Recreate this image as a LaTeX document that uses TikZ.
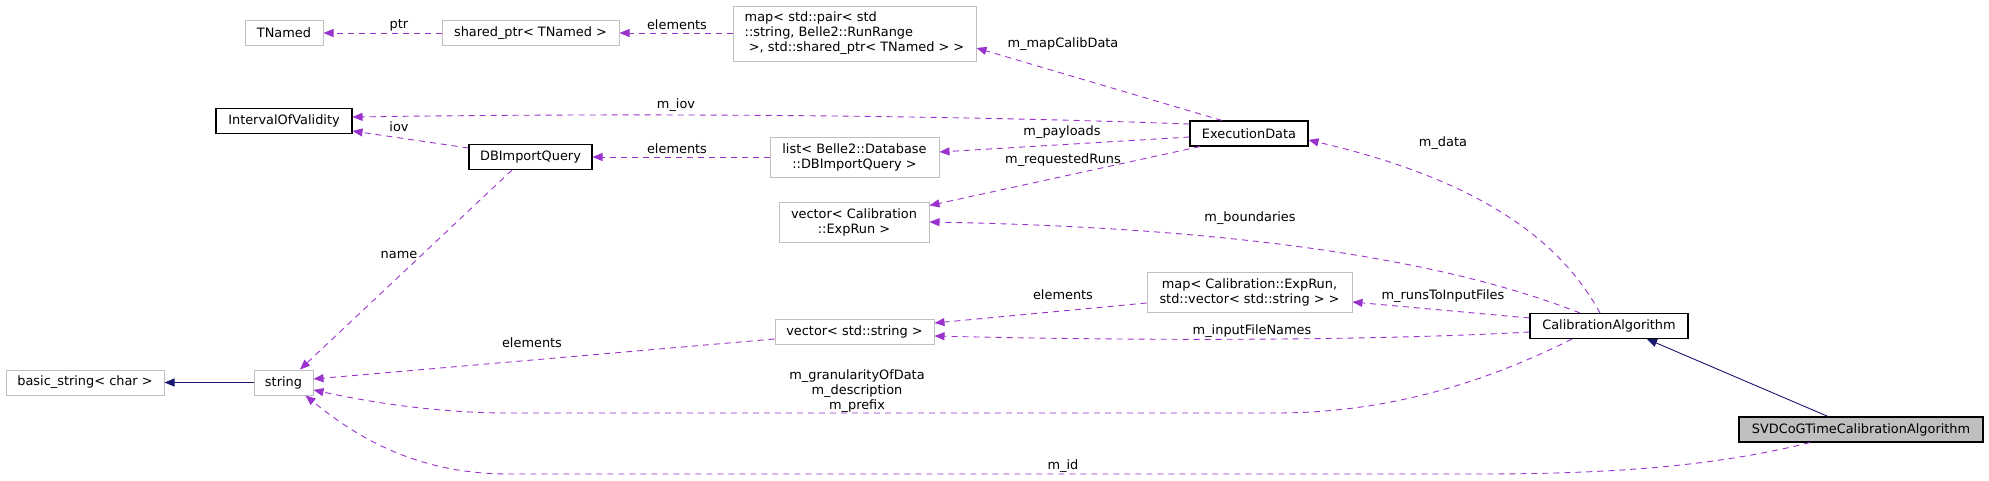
\documentclass[tikz,border=0pt]{standalone}
\usepackage{fontspec}
\setmainfont{DejaVu Sans}
\usepackage{tikz}
\usetikzlibrary{arrows.meta}
\definecolor{useedge}{HTML}{9A32CD}
\definecolor{inhedge}{HTML}{191970}
\definecolor{greybox}{HTML}{BFBFBF}
\newcommand{\graphfont}{\fontsize{12.9}{15}\selectfont}
\tikzset{
  cls/.style={draw=black, line width=1.05pt, fill=white, inner sep=0pt, minimum height=25pt, font=\graphfont},
  ext/.style={draw=greybox, line width=1pt, fill=white, inner sep=0pt, minimum height=25pt, font=\graphfont},
  cur/.style={cls, fill=greybox},
  usage/.style={draw=useedge, line width=0.9pt, dash pattern=on 6pt off 5pt, -{Triangle[length=10pt,width=8pt]}},
  inherit/.style={draw=inhedge, line width=0.9pt, -{Triangle[length=10pt,width=8pt]}},
  lab/.style={font=\graphfont, inner sep=0pt},
}

\begin{document}
\begin{tikzpicture}[x=1pt, y=-1pt]
  \useasboundingbox[fill=white] (0,0) rectangle (1989,480);

  % classes
  \node[ext, minimum width=78pt] (tnamed) at (284,33) {TNamed};
  \node[ext, minimum width=177pt] (sharedptr) at (530.5,33) {shared\_ptr< TNamed >};
  \node[ext, minimum width=243pt, minimum height=55pt, align=left] (mappair) at (854.5,33.5)
    {map< std::pair< std\\::string, Belle2::RunRange\\\mbox{}\ >, std::shared\_ptr< TNamed > >};
  \node[cls, minimum width=136pt] (iov) at (284,121) {IntervalOfValidity};
  \node[cls, minimum width=123pt] (dbquery) at (530.5,157) {DBImportQuery};
  \node[ext, minimum width=169pt, minimum height=40pt, align=center] (dblist) at (854.5,157)
    {list< Belle2::Database\\::DBImportQuery >};
  \node[cls, minimum width=118pt] (execdata) at (1249,133.5) {ExecutionData};
  \node[ext, minimum width=150pt, minimum height=40pt, align=center] (expruns) at (854,222)
    {vector< Calibration\\::ExpRun >};
  \node[ext, minimum width=205pt, minimum height=40pt, align=center] (runsmap) at (1249.5,292)
    {map< Calibration::ExpRun,\\std::vector< std::string > >};
  \node[ext, minimum width=159pt] (strvec) at (854.5,331.5) {vector< std::string >};
  \node[cls, minimum width=158pt] (calalgo) at (1609,326) {CalibrationAlgorithm};
  \node[cur, minimum width=244pt] (svdcog) at (1861,429.5) {SVDCoGTimeCalibrationAlgorithm};
  \node[ext, minimum width=158pt] (basicstr) at (85,382.5) {basic\_string< char >};
  \node[ext, minimum width=59pt] (str) at (283.5,382.5) {string};

  % inheritance
  \draw[inherit] (str.west) -- (basicstr.east);
  \draw[inherit] ([xshift=-33pt]svdcog.north) -- ([xshift=38pt]calalgo.south);

  % usage
  \draw[usage] (sharedptr.west) -- (tnamed.east);
  \draw[usage] ([yshift=0.5pt]mappair.west) -- (sharedptr.east);
  \draw[usage] ([xshift=-27pt]execdata.north) -- ([yshift=-14.5pt]mappair.east);
  \draw[usage] ([yshift=9.5pt]execdata.west) .. controls (1000,117) and (700,112) .. ([yshift=4pt]iov.east);
  \draw[usage] ([yshift=9pt]dbquery.west) -- ([yshift=-10pt]iov.east);
  \draw[usage] (dblist.west) -- (dbquery.east);
  \draw[usage] ([yshift=-3.5pt]execdata.west) -- ([yshift=5pt]dblist.east);
  \draw[usage] ([xshift=-49pt]execdata.south) -- ([yshift=-4pt]expruns.north east);
  \draw[usage] ([xshift=-18.5pt]dbquery.south) -- ([xshift=16.5pt]str.north);
  \draw[usage] ([xshift=-9pt]calalgo.north) .. controls (1560,240) and (1480,180) .. ([yshift=-6.5pt]execdata.east);
  \draw[usage] ([xshift=-29pt]calalgo.north) .. controls (1450,262) and (1250,228) .. (expruns.east);
  \draw[usage] ([yshift=8pt]calalgo.west) -- ([yshift=-10pt]runsmap.east);
  \draw[usage] ([yshift=-11pt]runsmap.west) -- ([yshift=8.5pt]strvec.east);
  \draw[usage] ([yshift=-6pt]calalgo.west) .. controls (1350,342) and (1100,340) .. ([yshift=-4.5pt]strvec.east);
  \draw[usage] ([yshift=-7.5pt]strvec.west) -- ([yshift=3.5pt]str.east);
  \draw[usage] ([xshift=-37pt]calalgo.south) .. controls (1500,375) and (1400,413) .. (1276,413)
    -- (509,413) .. controls (430,413) and (360,400) .. ([yshift=-7.5pt]str.east);
  \draw[usage] ([xshift=-51pt]svdcog.south) .. controls (1720,465) and (1620,474) .. (1480,474)
    -- (509,474) .. controls (420,474) and (360,440) .. ([xshift=-8pt]str.south east);

  % member names
  \node[lab] (lptr) at (399,25) {ptr};
  \node[lab] (lelem1) at (677,25) {elements};
  \node[lab] (lcalib) at (1063,44) {m\_mapCalibData};
  \node[lab] (liov1) at (676,105) {m\_iov};
  \node[lab] (liov2) at (399,127) {iov};
  \node[lab] (lelem2) at (677,149) {elements};
  \node[lab] (lpay) at (1062,132) {m\_payloads};
  \node[lab] (lreq) at (1063,160) {m\_requestedRuns};
  \node[lab] (lname) at (399,255) {name};
  \node[lab] (ldata) at (1443,143) {m\_data};
  \node[lab] (lbound) at (1250,218) {m\_boundaries};
  \node[lab] (lruns) at (1443,296) {m\_runsToInputFiles};
  \node[lab] (lelem3) at (1063,295) {elements};
  \node[lab] (lfiles) at (1252,331) {m\_inputFileNames};
  \node[lab] (lelem4) at (532,343) {elements};
  \node[lab, align=center] (lgran) at (857,391) {m\_granularityOfData\\m\_description\\m\_prefix};
  \node[lab] (lid) at (1063,466) {m\_id};
\end{tikzpicture}
\end{document}
